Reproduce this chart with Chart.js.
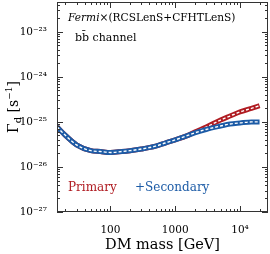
<!DOCTYPE html>
<html>
<head>
  <meta charset="utf-8" />
  <title>Fermi x (RCSLenS+CFHTLenS) decay rate</title>
  <script src="https://cdn.jsdelivr.net/npm/chart.js@4/dist/chart.umd.min.js"></script>
  <style>
    html, body { margin: 0; padding: 0; background: #ffffff; }
    #wrap { width: 270px; height: 254px; position: relative; }
  </style>
</head>
<body>
  <div id="wrap"><canvas id="chart"></canvas></div>
  <script>
    // DM mass in GeV
    var masses = [15, 20, 30, 50, 70, 100, 150, 200, 300, 500, 700, 1000, 1500, 2000, 3000, 5000, 7000, 10000, 15000, 20000];
    // decay rate Gamma_d [1/s]
    var secondary = [7.8e-26, 5.1e-26, 3.1e-26, 2.3e-26, 2.2e-26, 2.1e-26, 2.2e-26, 2.3e-26, 2.5e-26, 2.9e-26, 3.4e-26, 4.0e-26, 4.9e-26, 5.7e-26, 6.8e-26, 8.1e-26, 9.0e-26, 9.5e-26, 1.0e-25, 1.0e-25];
    var primary = [7.8e-26, 5.1e-26, 3.1e-26, 2.3e-26, 2.2e-26, 2.1e-26, 2.2e-26, 2.3e-26, 2.5e-26, 2.9e-26, 3.4e-26, 4.0e-26, 4.9e-26, 6.0e-26, 7.7e-26, 1.1e-25, 1.35e-25, 1.67e-25, 2.0e-25, 2.3e-25];

    var xTickVals = [100, 1000, 10000];
    var xTickLabels = ['100', '1000', '10\u2074'];
    var yTickVals = [1e-27, 1e-26, 1e-25, 1e-24, 1e-23];
    var yTickLabels = ['10\u207b\u00b2\u2077', '10\u207b\u00b2\u2076', '10\u207b\u00b2\u2075', '10\u207b\u00b2\u2074', '10\u207b\u00b2\u00b3'];
    // minor/major tick positions (values) drawn inside the frame
    var xMarks = [20, 30, 40, 50, 60, 70, 80, 90, 100, 200, 300, 400, 500, 600, 700, 800, 900, 1000,
                  2000, 3000, 4000, 5000, 6000, 7000, 8000, 9000, 10000, 20000];
    var yDecades = [-27, -26, -25, -24, -23];

    var RED = '#b01c22';
    var BLUE = '#1c5ba6';
    var SERIF = '"DejaVu Serif", serif';

    function pts(ys) {
      return masses.map(function(m, i) { return { x: m, y: ys[i] }; });
    }

    function band(ys, color, order) {
      return [
        { data: pts(ys), borderColor: color, borderWidth: 5, order: order + 1 },
        { data: pts(ys), borderColor: '#ffffff', borderWidth: 1.4, borderDash: [3, 2], order: order }
      ];
    }

    function isMajor(v) {
      var l = Math.log10(v);
      return Math.abs(l - Math.round(l)) < 1e-6;
    }

    // inside ticks on all four sides, plus frame and text
    var framePlugin = {
      id: 'frame',
      afterDraw: function(chart) {
        var c = chart.ctx, a = chart.chartArea;
        var xs = chart.scales.x, ys = chart.scales.y;
        var L = Math.round(a.left), R = Math.round(a.right), T = Math.round(a.top), B = Math.round(a.bottom);
        c.save();
        c.fillStyle = '#333333';
        c.fillRect(L, T, R - L, 1);
        c.fillRect(L, B - 1, R - L, 1);
        c.fillRect(L, T, 1, B - T);
        c.fillRect(R - 1, T, 1, B - T);

        xMarks.forEach(function(v) {
          var px = Math.round(xs.getPixelForValue(v));
          var len = isMajor(v) ? 6 : 3;
          c.fillRect(px, B - len, 1, len);
          c.fillRect(px, T, 1, len);
        });
        var yMarks = [];
        yDecades.forEach(function(d) {
          for (var k = 1; k <= 9; k++) yMarks.push(k * Math.pow(10, d));
        });
        yMarks.forEach(function(v) {
          if (v > ys.max) return;
          var py = Math.round(ys.getPixelForValue(v));
          var len = isMajor(v) ? 6 : 3;
          c.fillRect(L, py, len, 1);
          c.fillRect(R - len, py, len, 1);
        });

        // annotations
        c.fillStyle = '#000000';
        c.textBaseline = 'middle';
        c.textAlign = 'left';
        c.font = 'italic 10.6px ' + SERIF;
        c.fillText('Fermi', 68, 18);
        var w = c.measureText('Fermi').width;
        c.font = '10.6px ' + SERIF;
        c.fillText('\u00d7(RCSLenS+CFHTLenS)', 68 + w, 18);
        c.font = '11px ' + SERIF;
        c.fillText('bb\u0304 channel', 75, 38);

        c.font = '12px ' + SERIF;
        c.fillStyle = RED;
        c.fillText('Primary', 68, 188);
        c.fillStyle = BLUE;
        c.fillText('+Secondary', 135, 188);

        // y axis title: Gamma_d [s^-1]
        c.translate(13, 107);
        c.rotate(-Math.PI / 2);
        c.fillStyle = '#000000';
        c.textBaseline = 'alphabetic';
        var parts = [
          { t: '\u0393', f: '14px ', dy: 0 },
          { t: 'd', f: '10px ', dy: 3 },
          { t: ' [s', f: '14px ', dy: 0 },
          { t: '\u22121', f: '9px ', dy: -6 },
          { t: ']', f: '14px ', dy: 0 }
        ];
        var total = 0;
        parts.forEach(function(p) { c.font = p.f + SERIF; p.w = c.measureText(p.t).width; total += p.w; });
        var x0 = -total / 2;
        parts.forEach(function(p) {
          c.font = p.f + SERIF;
          c.fillText(p.t, x0, 5 + p.dy);
          x0 += p.w;
        });
        c.restore();
      }
    };

    new Chart(document.getElementById('chart'), {
      type: 'line',
      data: {
        datasets: band(primary, RED, 3).concat(band(secondary, BLUE, 1))
      },
      options: {
        responsive: true,
        maintainAspectRatio: false,
        animation: false,
        events: [],
        layout: { padding: { top: 2, right: 2, left: 0, bottom: 0 } },
        elements: {
          point: { radius: 0 },
          line: { cubicInterpolationMode: 'monotone', fill: false }
        },
        plugins: { legend: { display: false }, tooltip: { enabled: false } },
        scales: {
          x: {
            type: 'logarithmic',
            min: 15,
            max: 27000,
            grid: { display: false },
            border: { display: false },
            afterBuildTicks: function(s) { s.ticks = xTickVals.map(function(v) { return { value: v }; }); },
            afterFit: function(s) { s.height = 42; s.paddingLeft = 0; s.paddingRight = 0; },
            ticks: {
              autoSkip: false,
              maxRotation: 0,
              padding: 4,
              color: '#000000',
              font: { family: SERIF, size: 10.5 },
              callback: function(v) { return xTickLabels[xTickVals.indexOf(v)]; }
            },
            title: {
              display: true,
              text: 'DM mass [GeV]',
              color: '#000000',
              font: { family: SERIF, size: 14.5 },
              padding: { top: 0, bottom: 0 }
            }
          },
          y: {
            type: 'logarithmic',
            min: 1e-27,
            max: 4.6e-23,
            grid: { display: false },
            border: { display: false },
            afterBuildTicks: function(s) { s.ticks = yTickVals.map(function(v) { return { value: v }; }); },
            afterFit: function(s) { s.width = 57; s.paddingTop = 0; s.paddingBottom = 0; },
            ticks: {
              autoSkip: false,
              padding: 2,
              color: '#000000',
              font: { family: SERIF, size: 10.5 },
              callback: function(v) { return yTickLabels[yTickVals.indexOf(v)]; }
            }
          }
        }
      },
      plugins: [framePlugin]
    });
  </script>
</body>
</html>
